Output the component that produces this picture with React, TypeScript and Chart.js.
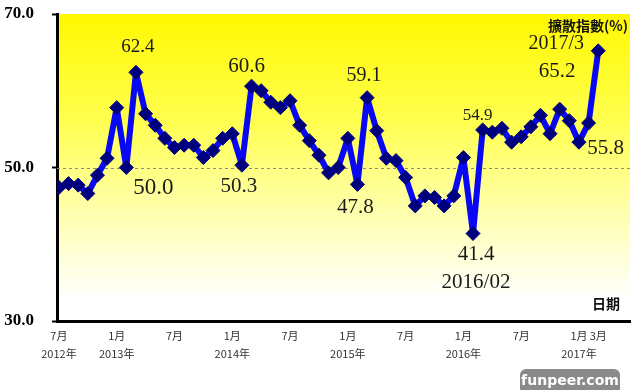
import React, { useEffect, useRef } from "react";
import { Chart, registerables } from "chart.js";

Chart.register(...registerables);

// ---- data ----
const categories = [
  "2012/07", "2012/08", "2012/09", "2012/10", "2012/11", "2012/12",
  "2013/01", "2013/02", "2013/03", "2013/04", "2013/05", "2013/06",
  "2013/07", "2013/08", "2013/09", "2013/10", "2013/11", "2013/12",
  "2014/01", "2014/02", "2014/03", "2014/04", "2014/05", "2014/06",
  "2014/07", "2014/08", "2014/09", "2014/10", "2014/11", "2014/12",
  "2015/01", "2015/02", "2015/03", "2015/04", "2015/05", "2015/06",
  "2015/07", "2015/08", "2015/09", "2015/10", "2015/11", "2015/12",
  "2016/01", "2016/02", "2016/03", "2016/04", "2016/05", "2016/06",
  "2016/07", "2016/08", "2016/09", "2016/10", "2016/11", "2016/12",
  "2017/01", "2017/02", "2017/03",
];

const diffusionIndex = [
  47.4, 47.9, 47.7, 46.6, 49.0, 51.2,
  57.8, 50.0, 62.4, 57.0, 55.5, 53.8, 52.6, 52.9, 52.9, 51.3, 52.2, 53.8,
  54.4, 50.3, 60.6, 60.0, 58.5, 57.8, 58.7, 55.5, 53.5, 51.6, 49.3, 50.0,
  53.8, 47.8, 59.1, 54.8, 51.2, 50.9, 48.7, 45.0, 46.3, 46.1, 45.0, 46.3,
  51.3, 41.4, 54.9, 54.6, 55.1, 53.3, 54.0, 55.3, 56.8, 54.4, 57.6, 56.1,
  53.3, 55.8, 65.2,
];

const yTickValues = [30, 50, 70];
const referenceValue = 50;

const xTickAt = ["2012/07", "2013/01", "2013/07", "2014/01", "2014/07", "2015/01", "2015/07", "2016/01", "2016/07", "2017/01", "2017/03"];
const xTickMonth = ["7月", "1月", "7月", "1月", "7月", "1月", "7月", "1月", "7月", "1月", "3月"];
const xTickYear = ["2012年", "2013年", "", "2014年", "", "2015年", "", "2016年", "", "2017年", ""];

const yAxisTitle = "擴散指數(%)";
const xAxisTitle = "日期";

// point annotations (text next to selected points)
const noteAt = ["2013/03", "2013/02", "2014/03", "2014/02", "2015/03", "2015/02", "2016/03", "2016/02", "2016/02", "2017/03", "2017/03", "2017/02"];
const noteText = ["62.4", "50.0", "60.6", "50.3", "59.1", "47.8", "54.9", "41.4", "2016/02", "2017/3", "65.2", "55.8"];
const noteDx = [2, 27, -5, -3, -3, -2, -5, 3, 3, -42, -41, 17];
const noteDy = [-25, 20, -20, 21, -22, 23, -14, 21, 49, -7, 21, 25];
const noteSize = [19, 23, 21, 21, 20, 21, 17, 21, 21, 20, 21, 21];

const SERIF = '"Liberation Serif", "Times New Roman", serif';
const CJK = '"Noto Sans CJK TC", "Noto Sans", sans-serif';

const decorPlugin = {
  id: "decor",
  beforeDraw(chart: any) {
    const { ctx, chartArea } = chart;
    const { left, right, top, bottom } = chartArea;
    const g = ctx.createLinearGradient(0, top, 0, bottom);
    g.addColorStop(0, "#fff800");
    g.addColorStop(0.35, "#ffff50");
    g.addColorStop(0.65, "#ffffb0");
    g.addColorStop(0.93, "#ffffff");
    g.addColorStop(1, "#ffffff");
    ctx.save();
    ctx.fillStyle = g;
    ctx.fillRect(left, top, right - left, bottom - top);
    ctx.restore();
  },
  beforeDatasetsDraw(chart: any) {
    const { ctx, chartArea, scales } = chart;
    const y = Math.round(scales.y.getPixelForValue(referenceValue)) + 0.5;
    ctx.save();
    ctx.strokeStyle = "#8a8a8a";
    ctx.lineWidth = 1;
    ctx.setLineDash([3, 3]);
    ctx.beginPath();
    ctx.moveTo(chartArea.left, y);
    ctx.lineTo(chartArea.right, y);
    ctx.stroke();
    ctx.restore();
  },
  afterDraw(chart: any) {
    const { ctx, scales, chartArea } = chart;
    ctx.save();
    ctx.fillStyle = "#1a1a1a";
    ctx.textAlign = "center";
    ctx.textBaseline = "middle";
    noteText.forEach((t, k) => {
      const i = categories.indexOf(noteAt[k]);
      const px = scales.x.getPixelForValue(i);
      const py = scales.y.getPixelForValue(diffusionIndex[i]);
      ctx.font = `${noteSize[k]}px ${SERIF}`;
      ctx.fillText(t, px + noteDx[k], py + noteDy[k]);
    });
    ctx.fillStyle = "#111";
    ctx.textAlign = "right";
    ctx.font = `bold 14px ${CJK}`;
    ctx.fillText(yAxisTitle, chartArea.right - 2, chartArea.top + 12);
    ctx.font = `bold 14px ${CJK}`;
    ctx.fillText(xAxisTitle, chartArea.right - 10, chartArea.bottom - 17);
    ctx.restore();
  },
};

export default function App() {
  const ref = useRef<HTMLCanvasElement>(null);

  useEffect(() => {
    if (!ref.current) return;
    const chart = new Chart(ref.current, {
      type: "line",
      data: {
        datasets: [
          {
            label: yAxisTitle,
            data: diffusionIndex.map((v, i) => ({ x: i, y: v })),
            borderColor: "#0808f2",
            borderWidth: 6,
            borderJoinStyle: "round",
            borderCapStyle: "round",
            pointStyle: "rectRot",
            pointRadius: 7,
            pointBackgroundColor: "#00007e",
            pointBorderColor: "#00007e",
            pointBorderWidth: 1,
            tension: 0,
          },
        ],
      },
      options: {
        responsive: false,
        animation: false,
        devicePixelRatio: 1,
        layout: { padding: { top: 14, right: 10, bottom: 0, left: 0 } },
        plugins: { legend: { display: false }, tooltip: { enabled: false } },
        scales: {
          x: {
            type: "linear",
            min: -0.2,
            max: 59.3,
            afterBuildTicks: (s: any) => {
              s.ticks = xTickAt.map((m) => ({ value: categories.indexOf(m) }));
            },
            afterFit: (s: any) => {
              s.height = 69;
            },
            ticks: {
              autoSkip: false,
              maxRotation: 0,
              minRotation: 0,
              padding: 5,
              color: "#333",
              font: { size: 11, family: CJK, lineHeight: 1.7 },
              callback: (v: any) => {
                const k = xTickAt.findIndex((m) => categories.indexOf(m) === v);
                if (k < 0) return "";
                return xTickYear[k] ? [xTickMonth[k], xTickYear[k]] : xTickMonth[k];
              },
            },
            grid: { display: true, drawOnChartArea: false, drawTicks: false },
            border: { display: true, color: "#000", width: 3 },
          },
          y: {
            min: 30,
            max: 70,
            afterBuildTicks: (s: any) => {
              s.ticks = yTickValues.map((v) => ({ value: v }));
            },
            afterFit: (s: any) => {
              s.width = 57;
              s.paddingTop = 0;
              s.paddingBottom = 0;
            },
            ticks: {
              padding: 18,
              color: "#000",
              font: { size: 17, weight: "bold", family: SERIF },
              callback: (v: any) => Number(v).toFixed(1),
            },
            grid: { drawOnChartArea: false, drawTicks: true, tickLength: 5, tickColor: "#000", tickWidth: 2 },
            border: { display: true, color: "#000", width: 3 },
          },
        },
      },
      plugins: [decorPlugin],
    } as any);
    return () => chart.destroy();
  }, []);

  return (
    <div style={{ position: "absolute", left: 0, top: 0, width: 640, height: 390, background: "#fff", overflow: "hidden" }}>
      <canvas ref={ref} width={640} height={390} style={{ width: 640, height: 390, display: "block" }} />
      <div
        style={{
          position: "absolute",
          left: 520,
          top: 369,
          width: 100,
          height: 26,
          background: "#8a8a8a",
          borderRadius: 6,
          color: "#fff",
          font: 'bold 14px "DejaVu Sans", sans-serif',
          textAlign: "center",
          lineHeight: "23px",
        }}
      >
        funpeer.com
      </div>
    </div>
  );
}
